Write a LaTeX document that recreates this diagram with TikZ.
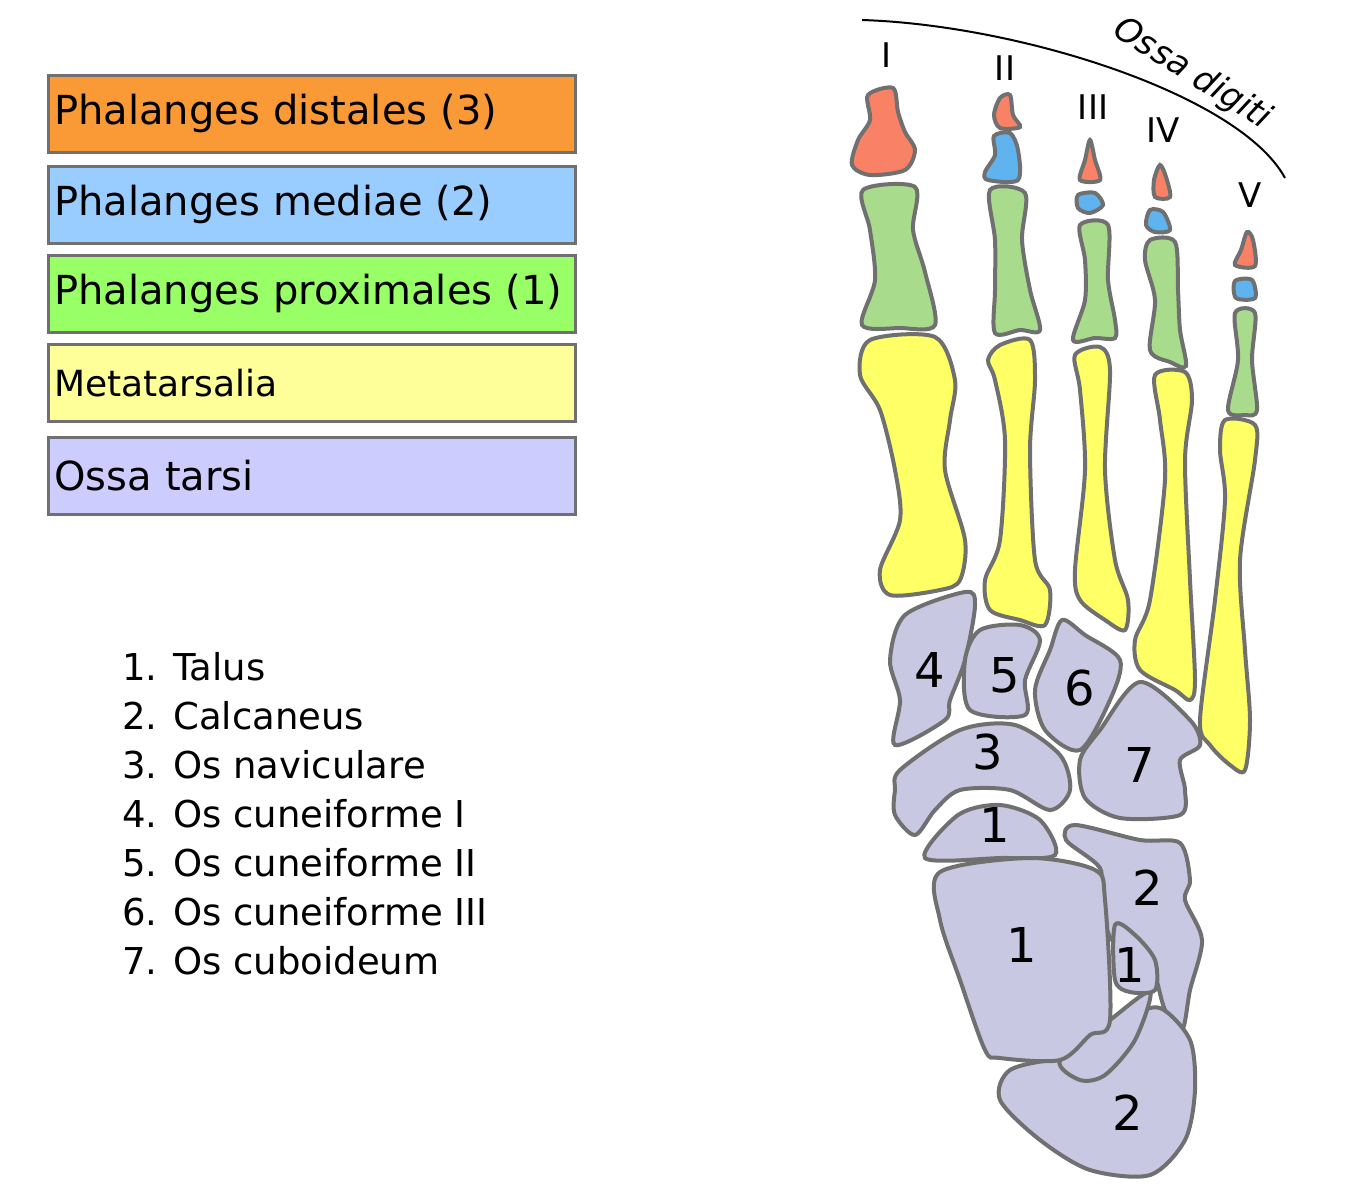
\documentclass[tikz,border=0pt]{standalone}
\usepackage{fontspec}
\setmainfont{DejaVu Sans}
\definecolor{cDist}{HTML}{F99A36}
\definecolor{cMed}{HTML}{99CCFF}
\definecolor{cProx}{HTML}{99FF66}
\definecolor{cMeta}{HTML}{FFFF99}
\definecolor{cTars}{HTML}{CCCCFF}
\definecolor{bDist}{HTML}{F98266}
\definecolor{bMed}{HTML}{5FB4F0}
\definecolor{bProx}{HTML}{A8DC8C}
\definecolor{bMeta}{HTML}{FFFF66}
\definecolor{bTars}{HTML}{C8C8E2}
\definecolor{bLine}{HTML}{707070}
\tikzset{every picture/.style={line width=0.75pt}}
\tikzset{
  legbox/.style={draw=bLine, line width=2.5pt, anchor=north west, minimum width=527pt, minimum height=77pt, inner sep=6pt, text width=515pt, font=\fontsize{40}{44}\selectfont},
  listtxt/.style={anchor=west, inner sep=0pt, font=\fontsize{37}{40}\selectfont},
  bone/.style={draw=bLine, line width=4pt},
  numtxt/.style={inner sep=0pt, font=\fontsize{48}{52}\selectfont},
  rom/.style={inner sep=0pt, font=\fontsize{34}{36}\selectfont}
}

\begin{document}
\begin{tikzpicture}[x=1pt,y=1pt,yscale=-1,xscale=1]
    \useasboundingbox (0,0) rectangle (1370,1200);

    % Legend
    \node [legbox, fill=cDist] (ldist) at (47,74) {Phalanges distales (3)};
    \node [legbox, fill=cMed] (lmed) at (47,165) {Phalanges mediae (2)};
    \node [legbox, fill=cProx] (lprox) at (47,254) {Phalanges proximales (1)};
    \node [legbox, fill=cMeta] (lmeta) at (47,343) {\fontsize{36}{40}\selectfont Metatarsalia};
    \node [legbox, fill=cTars] (ltars) at (47,436) {Ossa tarsi};

    % Numbered list
    \node [listtxt] (n1) at (122,667) {1. Talus};
    \node [listtxt] (n2) at (122,716) {2. Calcaneus};
    \node [listtxt] (n3) at (122,765) {3. Os naviculare};
    \node [listtxt] (n4) at (122,814) {4. Os cuneiforme I};
    \node [listtxt] (n5) at (122,863) {5. Os cuneiforme II};
    \node [listtxt] (n6) at (122,912) {6. Os cuneiforme III};
    \node [listtxt] (n7) at (122,961) {7. Os cuboideum};

    % Arc over the toes
    \draw [line width=2pt] (862,20) .. controls (1020,25) and (1240,95) .. (1285,178);
    \node [rom, font=\itshape\fontsize{34}{36}\selectfont, rotate=-32] (ossa) at (1192,74) {Ossa digiti};
    \node [rom] (rI) at (887,55) {I};
    \node [rom] (rII) at (1005,68) {II};
    \node [rom] (rIII) at (1093,107) {III};
    \node [rom] (rIV) at (1163,130) {IV};
    \node [rom] (rV) at (1250,195) {V};

    %Toe I
    \draw [bone, fill=bDist] plot [smooth cycle, tension=0.5] coordinates {(868,95)(893,88)(898,112)(905,132)(915,150)(905,170)(870,175)(852,165)(858,140)(870,120)};
    \draw [bone, fill=bProx] plot [smooth cycle, tension=0.5] coordinates {(863,190)(915,187)(913,230)(925,272)(935,325)(900,328)(862,325)(875,280)(870,230)};
    \draw [bone, fill=bMeta] plot [smooth cycle, tension=0.5] coordinates {(870,340)(935,337)(955,380)(950,420)(945,470)(965,540)(960,580)(940,590)(890,595)(880,570)(900,520)(895,470)(880,410)(860,375)};
    %Toe II
    \draw [bone, fill=bDist] plot [smooth cycle, tension=0.5] coordinates {(1000,98)(1010,95)(1013,115)(1020,127)(1000,128)(994,115)};
    \draw [bone, fill=bMed] plot [smooth cycle, tension=0.5] coordinates {(994,136)(1010,133)(1018,150)(1018,180)(988,180)(985,172)(995,155)};
    \draw [bone, fill=bProx] plot [smooth cycle, tension=0.5] coordinates {(990,190)(1025,193)(1022,240)(1030,290)(1040,330)(1020,330)(995,333)(995,290)(995,240)};
    \draw [bone, fill=bMeta] plot [smooth cycle, tension=0.5] coordinates {(1000,345)(1030,340)(1035,380)(1030,450)(1035,560)(1050,590)(1045,625)(1020,620)(990,610)(985,580)(1000,540)(1005,440)(995,380)(988,360)};
    %Toe III
    \draw [bone, fill=bDist] plot [smooth cycle, tension=0.5] coordinates {(1090,140)(1095,160)(1100,180)(1080,180)(1085,160)};
    \draw [bone, fill=bMed] plot [smooth cycle, tension=0.5] coordinates {(1078,195)(1095,193)(1103,205)(1090,213)(1078,208)};
    \draw [bone, fill=bProx] plot [smooth cycle, tension=0.5] coordinates {(1080,225)(1108,225)(1108,280)(1115,320)(1115,338)(1095,338)(1073,340)(1085,300)(1085,260)};
    \draw [bone, fill=bMeta] plot [smooth cycle, tension=0.5] coordinates {(1075,355)(1100,347)(1110,370)(1105,470)(1115,560)(1128,600)(1125,630)(1105,620)(1080,600)(1075,570)(1085,470)(1080,390)};
    %Toe IV
    \draw [bone, fill=bDist] plot [smooth cycle, tension=0.5] coordinates {(1160,165)(1166,177)(1170,197)(1155,197)(1154,180)};
    \draw [bone, fill=bMed] plot [smooth cycle, tension=0.5] coordinates {(1150,210)(1163,212)(1170,230)(1155,232)(1146,225)};
    \draw [bone, fill=bProx] plot [smooth cycle, tension=0.5] coordinates {(1150,240)(1175,242)(1178,290)(1180,330)(1186,366)(1170,362)(1150,350)(1155,300)(1145,260)};
    \draw [bone, fill=bMeta] plot [smooth cycle, tension=0.5] coordinates {(1155,375)(1185,372)(1192,400)(1185,460)(1190,580)(1195,680)(1190,700)(1175,690)(1140,670)(1135,640)(1150,600)(1165,480)(1160,420)};
    %Toe V
    \draw [bone, fill=bDist] plot [smooth cycle, tension=0.5] coordinates {(1247,232)(1253,240)(1255,266)(1235,265)(1241,250)};
    \draw [bone, fill=bMed] plot [smooth cycle, tension=0.5] coordinates {(1235,281)(1252,280)(1255,298)(1236,298)};
    \draw [bone, fill=bProx] plot [smooth cycle, tension=0.5] coordinates {(1235,313)(1255,313)(1252,360)(1257,410)(1245,415)(1228,410)(1238,360)};
    \draw [bone, fill=bMeta] plot [smooth cycle, tension=0.5] coordinates {(1225,420)(1255,425)(1255,460)(1240,560)(1245,650)(1250,720)(1245,770)(1230,765)(1210,745)(1200,720)(1215,600)(1225,500)(1220,450)};

    %Tarsals
    \draw [bone, fill=bTars] plot [smooth cycle, tension=0.5] coordinates {(905,615)(965,592)(975,605)(965,660)(950,700)(945,720)(895,745)(900,700)(890,660)};
    \draw [bone, fill=bTars] plot [smooth cycle, tension=0.5] coordinates {(980,630)(1020,625)(1040,640)(1025,680)(1025,715)(970,710)(965,660)};
    \draw [bone, fill=bTars] plot [smooth cycle, tension=0.5] coordinates {(1062,620)(1085,635)(1120,660)(1110,700)(1080,750)(1045,730)(1035,690)(1050,650)};
    \draw [bone, fill=bTars] plot [smooth cycle, tension=0.5] coordinates {(900,770)(960,730)(1015,725)(1060,755)(1070,790)(1050,810)(1010,790)(960,790)(935,810)(915,835)(895,815)(895,790)};
    \draw [bone, fill=bTars] plot [smooth cycle, tension=0.5] coordinates {(1140,682)(1190,720)(1200,745)(1180,760)(1185,790)(1180,815)(1120,818)(1085,798)(1080,760)(1100,730)};
    \draw [bone, fill=bTars] plot [smooth cycle, tension=0.5] coordinates {(925,858)(958,815)(1000,805)(1040,820)(1055,855)(1000,858)};
    \draw [bone, fill=bTars] plot [smooth cycle, tension=0.5] coordinates {(1075,825)(1140,840)(1180,843)(1190,880)(1185,900)(1202,940)(1190,990)(1182,1030)(1165,1010)(1150,965)(1112,940)(1100,900)(1100,868)(1066,840)};
    \draw [bone, fill=bTars] plot [smooth cycle, tension=0.5] coordinates {(1010,1070)(1060,1060)(1090,1075)(1130,1020)(1160,1008)(1190,1040)(1195,1090)(1185,1140)(1150,1175)(1090,1170)(1040,1140)(1000,1100)};
    \draw [bone, fill=bTars] plot [smooth cycle, tension=0.5] coordinates {(1060,1060)(1110,1020)(1150,992)(1135,1040)(1105,1075)(1080,1080)};
    \draw [bone, fill=bTars] plot [smooth cycle, tension=0.5] coordinates {(940,872)(1030,858)(1095,870)(1105,900)(1110,1020)(1090,1035)(1060,1060)(1000,1058)(985,1050)(960,980)(940,920)};
    \draw [bone, fill=bTars] plot [smooth cycle, tension=0.5] coordinates {(1115,925)(1135,935)(1155,960)(1155,990)(1130,992)(1115,980)};

    % Tarsal numbers
    \node [numtxt] (t4) at (930,670) {4};
    \node [numtxt] (t5) at (1005,675) {5};
    \node [numtxt] (t6) at (1080,688) {6};
    \node [numtxt] (t3) at (988,752) {3};
    \node [numtxt] (t7) at (1140,765) {7};
    \node [numtxt] (t1a) at (995,825) {1};
    \node [numtxt] (t2a) at (1148,888) {2};
    \node [numtxt] (t1b) at (1022,945) {1};
    \node [numtxt] (t1c) at (1130,965) {1};
    \node [numtxt] (t2b) at (1128,1113) {2};

  \end{tikzpicture}
\end{document}
